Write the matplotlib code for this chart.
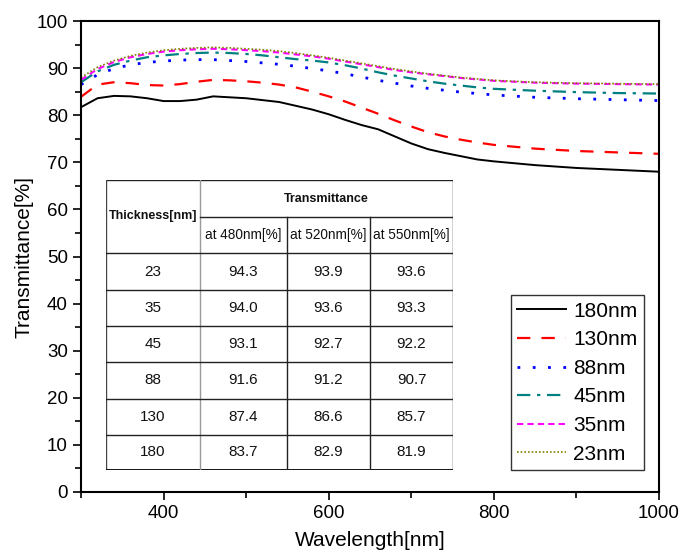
import matplotlib
matplotlib.use("Agg")
import matplotlib.pyplot as plt
from matplotlib.ticker import MultipleLocator

plt.rcParams["font.family"] = ["Liberation Sans", "DejaVu Sans"]

# wavelength grid (nm)
wavelength = [300, 320, 340, 360, 380, 400, 420, 440, 460, 480, 500, 520, 540, 560, 580,
              600, 620, 640, 660, 680, 700, 720, 740, 760, 780, 800, 850, 900, 950, 1000]

t_180 = [81.7, 83.6, 84.1, 84.0, 83.6, 83.0, 83.0, 83.3, 84.0, 83.8, 83.6, 83.2, 82.8, 82.0, 81.2,
         80.2, 79.0, 77.9, 77.0, 75.5, 74.0, 72.8, 72.0, 71.3, 70.6, 70.2, 69.4, 68.8, 68.4, 68.0]
t_130 = [83.9, 86.5, 87.0, 86.8, 86.4, 86.3, 86.6, 87.1, 87.5, 87.4, 87.2, 86.9, 86.5, 85.9, 85.0,
         84.0, 82.9, 81.6, 80.3, 78.9, 77.6, 76.4, 75.5, 74.8, 74.2, 73.7, 72.9, 72.4, 72.1, 71.8]
t_88 = [86.5, 88.6, 89.9, 90.7, 91.2, 91.5, 91.7, 91.8, 91.8, 91.6, 91.4, 91.1, 90.8, 90.4, 89.9,
        89.4, 88.8, 88.1, 87.4, 86.8, 86.2, 85.7, 85.3, 84.9, 84.6, 84.3, 83.8, 83.5, 83.3, 83.1]
t_45 = [87.0, 89.3, 90.7, 91.6, 92.3, 92.7, 93.0, 93.2, 93.3, 93.2, 93.0, 92.7, 92.3, 91.9, 91.6,
        91.2, 90.6, 89.9, 89.1, 88.4, 87.8, 87.2, 86.7, 86.3, 85.9, 85.6, 85.2, 84.9, 84.7, 84.6]
t_35 = [87.5, 89.8, 91.3, 92.3, 93.0, 93.5, 93.8, 94.0, 94.1, 94.0, 93.8, 93.6, 93.3, 92.9, 92.5,
        92.0, 91.4, 90.8, 90.2, 89.6, 89.1, 88.7, 88.3, 87.9, 87.6, 87.3, 86.9, 86.7, 86.6, 86.5]
t_23 = [88.0, 90.2, 91.6, 92.6, 93.3, 93.8, 94.1, 94.3, 94.4, 94.3, 94.1, 93.9, 93.6, 93.2, 92.7,
        92.2, 91.6, 91.0, 90.4, 89.8, 89.3, 88.8, 88.4, 88.0, 87.7, 87.4, 87.0, 86.8, 86.7, 86.6]

series_labels = ["180nm", "130nm", "88nm", "45nm", "35nm", "23nm"]
series_values = [t_180, t_130, t_88, t_45, t_35, t_23]

# inset table
table_thickness = ["23", "35", "45", "88", "130", "180"]
table_480 = ["94.3", "94.0", "93.1", "91.6", "87.4", "83.7"]
table_520 = ["93.9", "93.6", "92.7", "91.2", "86.6", "82.9"]
table_550 = ["93.6", "93.3", "92.2", "90.7", "85.7", "81.9"]
table_subheaders = ["at 480nm[%]", "at 520nm[%]", "at 550nm[%]"]

styles = [
    dict(color="black", linestyle="-", linewidth=1.4),
    dict(color="#ff0000", linestyle=(0, (6, 5)), linewidth=1.6),
    dict(color="#0000ff", linestyle=(0, (1, 4.5)), linewidth=2.0),
    dict(color="#008080", linestyle=(0, (6, 3, 1.5, 3)), linewidth=1.6),
    dict(color="#ff00ff", linestyle=(0, (3, 2)), linewidth=1.5),
    dict(color="#808000", linestyle=(0, (1, 1.2)), linewidth=1.2),
]

fig = plt.figure(figsize=(6.85, 5.53), dpi=100)
ax = fig.add_axes([81 / 685, 1 - 492 / 553, (659 - 81) / 685, (492 - 21) / 553])

for label, values, st in zip(series_labels, series_values, styles):
    ax.plot(wavelength, values, label=label, **st)

ax.set_xlim(300, 1000)
ax.set_ylim(0, 100)
ax.xaxis.set_major_locator(MultipleLocator(200))
ax.xaxis.set_minor_locator(MultipleLocator(100))
ax.yaxis.set_major_locator(MultipleLocator(10))
ax.yaxis.set_minor_locator(MultipleLocator(5))
ax.tick_params(which="both", direction="out", top=False, right=False, labelsize=13.5, width=1.2)
ax.tick_params(which="major", length=6)
ax.tick_params(which="minor", length=4)
for sp in ax.spines.values():
    sp.set_linewidth(1.5)
ax.set_xlabel("Wavelength[nm]", fontsize=15, labelpad=6)
ax.set_ylabel("Transmittance[%]", fontsize=15, labelpad=2)

leg = ax.legend(loc="lower right", bbox_to_anchor=(0.974, 0.047), fontsize=15,
                frameon=True, fancybox=False, handlelength=2.35, handletextpad=0.35,
                labelspacing=0.46, borderpad=0.3, borderaxespad=0)
leg.get_frame().set_edgecolor("black")
leg.get_frame().set_linewidth(1.0)

# table drawn on its own overlay axes
tax = fig.add_axes([106 / 685, 1 - 470 / 553, (453 - 106) / 685, (470 - 180) / 553])
tax.set_xlim(0, 1)
tax.set_ylim(1, 0)
tax.axis("off")
tax.patch.set_alpha(0)
tax.add_patch(plt.Rectangle((0, 0), 1, 1, facecolor="white", edgecolor="none", zorder=0))

col_edges = [0, 94 / 347, 181 / 347, 264 / 347, 1]
row_edges = [0, 73 / 290, 110 / 290, 146 / 290, 182 / 290, 219 / 290, 255 / 290, 1]
sub_line = 37 / 290

lc = "#222222"
tax.plot([0, 1], [0, 0], color=lc, lw=1.0)
tax.plot([0, 0], [0, 1], color="#444444", lw=1.0)
tax.plot([1, 1], [0, 1], color=lc, lw=1.0)
tax.plot([0, 1], [1, 1], color="black", lw=2.0)
tax.plot([col_edges[1], col_edges[1]], [0, 1], color="#999999", lw=1.0)
for c in col_edges[2:4]:
    tax.plot([c, c], [sub_line, 1], color=lc, lw=1.0)
tax.plot([col_edges[1], 1], [sub_line, sub_line], color=lc, lw=1.0)
for r in row_edges[1:-1]:
    tax.plot([0, 1], [r, r], color=lc, lw=1.0)

tfont = dict(ha="center", va="center", color="#111111")
tax.text((col_edges[0] + col_edges[1]) / 2, row_edges[1] / 2, "Thickness[nm]",
         fontsize=9, fontweight="bold", **tfont)
tax.text((col_edges[1] + 1) / 2, sub_line / 2, "Transmittance",
         fontsize=9, fontweight="bold", **tfont)
for i, s in enumerate(table_subheaders):
    tax.text((col_edges[i + 1] + col_edges[i + 2]) / 2, (sub_line + row_edges[1]) / 2, s,
             fontsize=9.8, **tfont)
for j, cols in enumerate(zip(table_thickness, table_480, table_520, table_550)):
    yc = (row_edges[j + 1] + row_edges[j + 2]) / 2
    for i, s in enumerate(cols):
        tax.text((col_edges[i] + col_edges[i + 1]) / 2, yc, s, fontsize=11, **tfont)

fig.savefig("out.png", dpi=100)
